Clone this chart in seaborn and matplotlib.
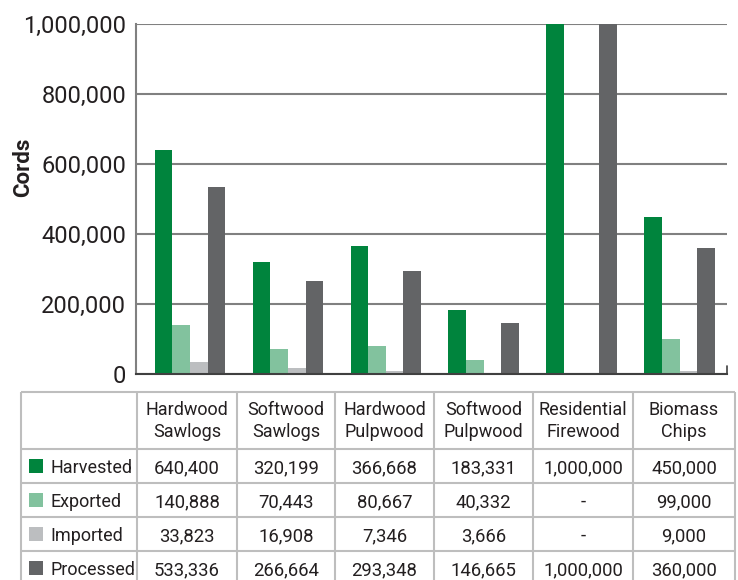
import numpy as np
import pandas as pd
import matplotlib
matplotlib.use("Agg")
import matplotlib.pyplot as plt
import seaborn as sns
from matplotlib.ticker import FuncFormatter

# ---- data ----
categories = ["Hardwood\nSawlogs", "Softwood\nSawlogs", "Hardwood\nPulpwood",
              "Softwood\nPulpwood", "Residential\nFirewood", "Biomass\nChips"]
series = ["Harvested", "Exported", "Imported", "Processed"]
harvested = [640400, 320199, 366668, 183331, 1000000, 450000]
exported = [140888, 70443, 80667, 40332, np.nan, 99000]
imported = [33823, 16908, 7346, 3666, np.nan, 9000]
processed = [533336, 266664, 293348, 146665, 1000000, 360000]
colors = ["#00843D", "#82C29E", "#BCBEC0", "#636466"]
yticks = [0, 200000, 400000, 600000, 800000, 1000000]

values = {"Harvested": harvested, "Exported": exported,
          "Imported": imported, "Processed": processed}

rows = []
for s in series:
    for c, v in zip(categories, values[s]):
        rows.append({"category": c, "series": s, "value": v})
df = pd.DataFrame(rows)

sns.set_theme(style="white")
plt.rcParams["font.family"] = ["Roboto", "DejaVu Sans"]
TXT = "#231F20"

W, H = 738, 580
fig = plt.figure(figsize=(W / 100, H / 100), dpi=100)
ax = fig.add_axes([136 / W, 1 - 374 / H, (727 - 136) / W, (374 - 24) / H])

sns.barplot(data=df.dropna(), x="category", y="value", hue="series",
            order=categories, hue_order=series, palette=colors,
            width=0.72, saturation=1, linewidth=0, legend=False, ax=ax,
            errorbar=None)

ax.set_xlim(-0.552, 5.485)
ax.set_ylim(0, 1000000)
ax.set_yticks(yticks)
ax.yaxis.set_major_formatter(FuncFormatter(lambda v, p: f"{int(v):,}"))
ax.tick_params(axis="y", length=0, pad=7, labelsize=17, labelcolor=TXT)
ax.set_xticks([])
ax.set_xlabel("")
ax.set_ylabel("")
ax.yaxis.grid(True, color="#808080", linewidth=1.5)
ax.set_axisbelow(True)
for s in ["top", "right"]:
    ax.spines[s].set_visible(False)
ax.spines["left"].set_color("#808080")
ax.spines["left"].set_linewidth(1.5)
ax.spines["bottom"].set_color("#404040")
ax.spines["bottom"].set_linewidth(1.5)

fig.text(23 / W, 1 - 167 / H, "Cords", rotation=90, ha="center", va="center",
         fontsize=16, fontweight="bold", color=TXT)

# ---- table ----
tax = fig.add_axes([0, 0, 1, 1])
tax.set_xlim(0, W)
tax.set_ylim(H, 0)
tax.axis("off")
col_edges = [21, 137, 237, 335, 434, 533, 633, 735]
row_edges = [392, 449, 483, 517, 551, 585]
lc = "#BEBEBE"
for y in row_edges:
    tax.plot([col_edges[0], col_edges[-1]], [y, y], color=lc, lw=1.5,
             solid_capstyle="butt")
for x in col_edges:
    tax.plot([x, x], [row_edges[0], row_edges[-1]], color=lc, lw=1.5,
             solid_capstyle="butt")
# small end tick on the category axis
tax.plot([727, 727], [366, 374], color="#404040", lw=1.2)

fs = 13.0
hy = (row_edges[0] + row_edges[1]) / 2 + 0.5
for i, c in enumerate(categories):
    cx = (col_edges[i + 1] + col_edges[i + 2]) / 2
    tax.text(cx, hy, c, ha="center", va="center", fontsize=fs, color=TXT,
             linespacing=1.33)

def fmt(v):
    return "-" if (v is None or (isinstance(v, float) and np.isnan(v))) else f"{int(v):,}"

for r, s in enumerate(series):
    cy = (row_edges[r + 1] + row_edges[r + 2]) / 2
    tax.add_patch(plt.Rectangle((29, cy - 7), 14, 14, color=colors[r], lw=0))
    tax.text(50, cy, s, ha="left", va="center_baseline", fontsize=fs, color=TXT)
    for i, v in enumerate(values[s]):
        cx = (col_edges[i + 1] + col_edges[i + 2]) / 2
        tax.text(cx, cy, fmt(v), ha="center", va="center_baseline",
                 fontsize=fs + 0.3, color=TXT)

fig.savefig("out.png", dpi=100)
